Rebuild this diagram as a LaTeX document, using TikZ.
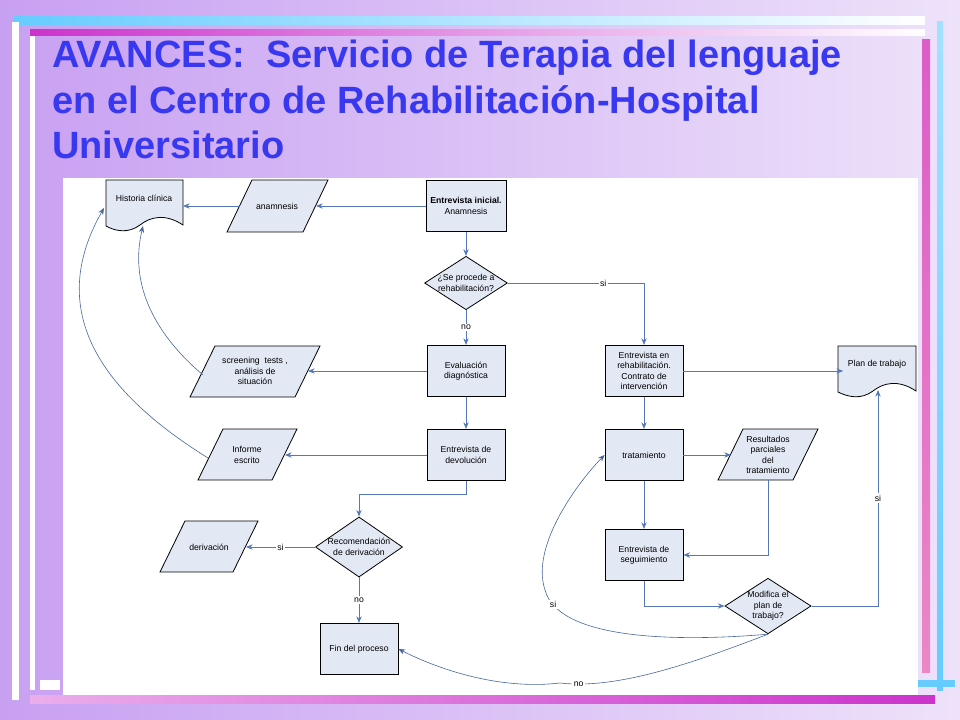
\documentclass[tikz,border=0pt]{standalone}
\usepackage{fontspec}
\setmainfont{Liberation Sans}
\usetikzlibrary{arrows.meta,shapes.geometric}
\definecolor{fillc}{HTML}{E3E8F5}
\definecolor{arr}{HTML}{5478B8}
\definecolor{titc}{HTML}{3838F0}
\definecolor{bgl}{HTML}{C8A0F2}
\definecolor{bgr}{HTML}{EEE2FA}
\definecolor{cyanb}{HTML}{66CCFF}
\definecolor{magb}{HTML}{CC33CC}
\tikzset{
 shp/.style={draw=black,fill=fillc,line width=0.6pt},
 lbl/.style={align=center,font=\fontsize{6.5}{7.8}\selectfont},
 con/.style={draw=arr,line width=0.6pt,-{Stealth[length=5pt,width=4pt]}},
 cur/.style={draw=arr!85!black,line width=0.45pt,-{Stealth[length=5pt,width=4pt]}},
 tag/.style={font=\fontsize{6.5}{7.8}\selectfont,fill=white,inner sep=1pt}
}
\begin{document}
\begin{tikzpicture}[x=0.75pt,y=-0.75pt]
\useasboundingbox (0,0) rectangle (960,720);
\shade[left color=bgl,right color=bgr] (0,0) rectangle (960,720);
% decorative bars
\shade[left color=cyanb,right color=white] (14,17) rectangle (925,25);
\shade[left color=magb,right color=white] (30,30) rectangle (925,36);
\fill[white] (12,22) rectangle (19,700);
\fill[white] (30,36) rectangle (35,690);
\shade[top color=cyanb!60,bottom color=cyanb] (937,22) rectangle (943,690);
\shade[top color=magb!70!pink,bottom color=magb!40!pink] (922,40) rectangle (930,672);
\shade[left color=magb!40,right color=magb] (30,695) rectangle (935,703);
\fill[cyanb] (918,680) rectangle (955,687);
\fill[white] (40,680) rectangle (60,690);
% title
\node[anchor=north west,align=left,text=titc,font=\fontsize{28.5}{34}\bfseries\selectfont,inner sep=0pt] (title) at (52,40)
 {AVANCES:\ \ Servicio de Terapia del lenguaje\\en el Centro de Rehabilitación-Hospital\\Universitario};
% diagram area
\fill[white] (63,178) rectangle (918,695);
% rectangles
\node[shp,lbl,minimum width=58.5pt,minimum height=38.5pt] (ei) at (466,206) {\textbf{Entrevista inicial.}\\Anamnesis};
\node[shp,lbl,minimum width=58.5pt,minimum height=38.5pt] (ev) at (466,371) {Evaluación\\diagnóstica};
\node[shp,lbl,minimum width=58.5pt,minimum height=38.5pt] (dev) at (466,455) {Entrevista de\\devolución};
\node[shp,lbl,minimum width=58.5pt,minimum height=38.5pt] (fin) at (359,649) {Fin del proceso};
\node[shp,lbl,minimum width=58.5pt,minimum height=38.5pt] (er) at (644,371) {Entrevista en\\rehabilitación.\\Contrato de\\intervención};
\node[shp,lbl,minimum width=58.5pt,minimum height=38.5pt] (tr) at (644,455) {tratamiento};
\node[shp,lbl,minimum width=58.5pt,minimum height=38.5pt] (seg) at (644,555) {Entrevista de\\seguimiento};
% diamonds
\node[shp,lbl,diamond,aspect=1.55,inner sep=0pt,minimum width=56pt,minimum height=37pt] (d1) at (466,283) {¿Se procede a\\rehabilitación?};
\node[shp,lbl,diamond,aspect=1.45,inner sep=0pt,minimum width=63pt,minimum height=44pt] (d2) at (359,547) {Recomendación\\de derivación};
\node[shp,lbl,diamond,aspect=1.55,inner sep=0pt,minimum width=57pt,minimum height=37pt] (d3) at (768,606) {Modifica el\\plan de\\trabajo?};
% parallelograms
\draw[shp] (252,180)--(328,180)--(303,232)--(227,232)--cycle;
\node[lbl] (ana) at (277,206) {anamnesis};
\draw[shp] (215,346)--(320,346)--(295,397)--(190,397)--cycle;
\node[lbl] (scr) at (255,371) {screening\ \ tests ,\\análisis de\\situación};
\draw[shp] (223,429)--(297,429)--(272,480)--(198,480)--cycle;
\node[lbl] (inf) at (247,455) {Informe\\escrito};
\draw[shp] (185,521)--(258,521)--(233,572)--(160,572)--cycle;
\node[lbl] (der) at (209,547) {derivación};
\draw[shp] (743,429)--(818,429)--(793,480)--(718,480)--cycle;
\node[lbl] (res) at (768,455) {Resultados\\parciales\\del\\tratamiento};
% documents
\draw[shp] (106,180)--(183,180)--(183,225) .. controls (165,213) and (150,217) .. (140,225) .. controls (128,234) and (115,231) .. (106,226) -- cycle;
\node[lbl] (hc) at (144,198) {Historia clínica};
\draw[shp] (838,346)--(916,346)--(916,391) .. controls (898,379) and (883,383) .. (873,391) .. controls (861,400) and (848,397) .. (838,392) -- cycle;
\node[lbl] (pt) at (877,364) {Plan de trabajo};
% free ends
\coordinate (anaR) at (316,206);
\coordinate (anaL) at (240,206);
\coordinate (hcR) at (183,206);
\coordinate (scrR) at (308,371);
\coordinate (scrL) at (203,375);
\coordinate (infR) at (285,455);
\coordinate (infL) at (208,458);
\coordinate (derR) at (246,547);
\coordinate (resL) at (731,455);
\coordinate (resB) at (768,480);
\coordinate (hcB) at (143,226);
\coordinate (hcL) at (104,208);
\coordinate (ptB) at (878,390);
% connectors
\draw[con] (ei.west) -- (anaR);
\draw[con] (anaL) -- (hcR);
\draw[con] (ei.south) -- (d1.north);
\draw[con] (d1.south) -- node[tag] {no} (ev.north);
\draw[con] (d1.east) -- node[tag,pos=0.7] {si} (er.north |- d1.east) -- (er.north);
\draw[con] (ev.west) -- (scrR);
\draw[con] (ev.south) -- (dev.north);
\draw[con] (dev.west) -- (infR);
\draw[con] (dev.south) -- ++(0,13) -| (d2.north);
\draw[con] (d2.west) -- node[tag] {si} (derR);
\draw[con] (d2.south) -- node[tag] {no} (fin.north);
\draw[con] (er.east) -- (pt.west |- er.east);
\draw[con] (er.south) -- (tr.north);
\draw[con] (tr.east) -- (resL);
\draw[con] (tr.south) -- (seg.north);
\draw[con] (resB) |- (seg.east);
\draw[con] (seg.south) |- (d3.west);
\draw[con] (d3.east) -| node[tag,pos=0.75] {si} (ptB);
% curves
\draw[cur] (scrL) .. controls (150,330) and (130,280) .. (hcB);
\draw[cur] (infL) .. controls (115,400) and (40,320) .. (hcL);
\draw[cur] (d3.south) .. controls (700,640) and (560,645) .. node[tag,pos=0.9] {si} (545,590) .. controls (530,545) and (580,480) .. (tr.west);
\draw[cur] (d3.south) .. controls (700,660) and (620,690) .. node[tag,pos=0.9] {no} (560,683) .. controls (500,690) and (440,670) .. (fin.east);
\end{tikzpicture}
\end{document}
